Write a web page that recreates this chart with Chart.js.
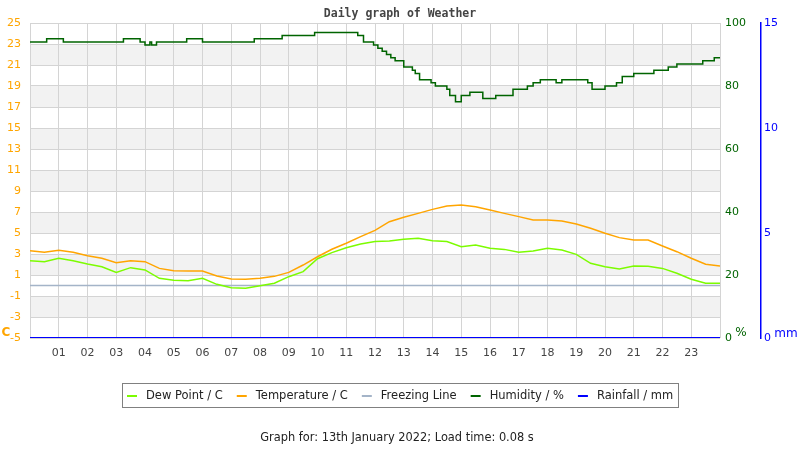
<!DOCTYPE html>
<html>
<head>
<meta charset="utf-8">
<title>Daily graph of Weather</title>
<script src="https://cdn.jsdelivr.net/npm/chart.js@4/dist/chart.umd.min.js"></script>
<style>
  html, body { margin: 0; padding: 0; background: #fff; }
  #wrap { width: 800px; height: 450px; }
</style>
</head>
<body>
<div id="wrap"><canvas id="weatherChart" width="800" height="450"></canvas></div>
<script>
// half-hourly readings, 00:00 - 24:00
var hours = [0, 0.5, 1, 1.5, 2, 2.5, 3, 3.5, 4, 4.5, 5, 5.5, 6, 6.5, 7, 7.5, 8, 8.5, 9, 9.5, 10, 10.5, 11, 11.5,
             12, 12.5, 13, 13.5, 14, 14.5, 15, 15.5, 16, 16.5, 17, 17.5, 18, 18.5, 19, 19.5, 20, 20.5, 21, 21.5, 22, 22.5, 23, 23.5, 24];
var tempC = [3.32, 3.16, 3.35, 3.16, 2.84, 2.59, 2.17, 2.36, 2.27, 1.63, 1.41, 1.38, 1.38, 0.90, 0.62, 0.60, 0.68, 0.87, 1.25, 1.95, 2.74, 3.45, 4.02, 4.65,
             5.25, 6.08, 6.50, 6.87, 7.25, 7.57, 7.67, 7.50, 7.19, 6.87, 6.56, 6.24, 6.24, 6.14, 5.86, 5.45, 4.97, 4.56, 4.33, 4.33, 3.76, 3.22, 2.59, 2.02, 1.86];
var dewC = [2.36, 2.27, 2.59, 2.36, 2.05, 1.79, 1.25, 1.70, 1.48, 0.68, 0.49, 0.46, 0.68, 0.11, -0.21, -0.27, -0.02, 0.21, 0.84, 1.32, 2.55, 3.13, 3.60, 3.95,
            4.20, 4.24, 4.40, 4.49, 4.27, 4.18, 3.70, 3.86, 3.54, 3.44, 3.16, 3.28, 3.54, 3.38, 2.97, 2.11, 1.79, 1.57, 1.86, 1.84, 1.63, 1.16, 0.59, 0.21, 0.21];

// humidity only changes in whole steps, so keep the change points
var humHours = [0, 0.58, 1.16, 3.25, 3.83, 4.0, 4.17, 4.23, 4.4, 5.45, 6.0, 7.8, 8.77, 9.9, 11.4, 11.6, 11.95, 12.1, 12.25, 12.4,
                12.55, 12.7, 13.0, 13.3, 13.4, 13.55, 13.95, 14.1, 14.5, 14.6, 14.8, 15.0, 15.3, 15.75, 16.2, 16.8, 17.3, 17.5, 17.75, 18.3,
                18.5, 19.4, 19.55, 20.0, 20.4, 20.6, 21.0, 21.7, 22.2, 22.5, 23.4, 23.8, 24.0];
var humPct = [94, 95, 94, 95, 94, 93, 94, 93, 94, 95, 94, 95, 96, 97, 96, 94, 93, 92, 91, 90,
              89, 88, 86, 85, 84, 82, 81, 80, 79, 77, 75, 77, 78, 76, 77, 79, 80, 81, 82, 81,
              82, 81, 79, 80, 81, 83, 84, 85, 86, 87, 88, 89, 89];

var rainHours = [0, 24];
var rainMm = [0, 0];
var freezeHours = [0, 24];
var freezeC = [0, 0];

var seriesNames = ['Dew Point / C', 'Temperature / C', 'Freezing Line', 'Humidity / %', 'Rainfall / mm'];
var seriesColors = ['#7cfc00', '#ffa500', '#a4b4c8', '#006400', '#0000ff'];

var tempTicks = { min: -5, max: 25, step: 2 };
var humTicks = { min: 0, max: 100, step: 20 };
var rainTicks = { min: 0, max: 15, step: 5 };

var titleText = 'Daily graph of Weather';
var footerText = 'Graph for: 13th January 2022; Load time: 0.08 s';

function pairs(xs, ys) {
    return xs.map(function (x, i) { return { x: x, y: ys[i] }; });
}

var font = '"DejaVu Sans", Verdana, sans-serif';

// shaded bands, unit labels, legend box and footer
var extras = {
    id: 'extras',
    beforeDraw: function (chart) {
        var ctx = chart.ctx, a = chart.chartArea, y = chart.scales.y;
        ctx.save();
        ctx.fillStyle = '#f2f2f2';
        for (var v = tempTicks.min + tempTicks.step; v < tempTicks.max; v += tempTicks.step * 2) {
            var top = y.getPixelForValue(v + tempTicks.step);
            var bot = y.getPixelForValue(v);
            ctx.fillRect(a.left, top, a.right - a.left, bot - top);
        }
        ctx.restore();
    },
    afterDraw: function (chart) {
        var ctx = chart.ctx;
        ctx.save();

        ctx.font = 'bold 11.5px "DejaVu Sans Mono", monospace';
        ctx.fillStyle = '#444';
        ctx.textAlign = 'center';
        ctx.textBaseline = 'alphabetic';
        ctx.fillText(titleText, 400, 17);

        ctx.textBaseline = 'middle';
        ctx.font = 'bold 12px ' + font;
        ctx.fillStyle = seriesColors[1];
        ctx.fillText('C', 6, 333);
        ctx.font = '12px ' + font;
        ctx.fillStyle = seriesColors[3];
        ctx.fillText('%', 741, 333);
        ctx.fillStyle = seriesColors[4];
        ctx.fillText('mm', 786, 334);

        // legend
        ctx.font = '11.5px ' + font;
        var sw = 10, gapText = 9, gapItem = 14, pad = 5;
        var widths = seriesNames.map(function (n) { return ctx.measureText(n).width; });
        var total = pad * 2;
        widths.forEach(function (w, i) { total += sw + gapText + w + (i < widths.length - 1 ? gapItem : 0); });
        var x0 = Math.round(400 - total / 2);
        var ly = 396;
        ctx.strokeStyle = '#808080';
        ctx.lineWidth = 1;
        ctx.strokeRect(x0 + 0.5, 383.5, Math.round(total), 24);
        var x = x0 + pad;
        ctx.textAlign = 'left';
        seriesNames.forEach(function (n, i) {
            ctx.strokeStyle = seriesColors[i];
            ctx.lineWidth = 2;
            ctx.beginPath();
            ctx.moveTo(x, ly);
            ctx.lineTo(x + sw, ly);
            ctx.stroke();
            ctx.fillStyle = '#222';
            ctx.fillText(n, x + sw + gapText, ly);
            x += sw + gapText + widths[i] + gapItem;
        });

        ctx.font = '11.4px ' + font;
        ctx.textAlign = 'center';
        ctx.fillStyle = '#222';
        ctx.fillText(footerText, 397, 438);
        ctx.restore();
    }
};

new Chart(document.getElementById('weatherChart'), {
    type: 'line',
    data: {
        datasets: [
            { label: seriesNames[0], data: pairs(hours, dewC), borderColor: seriesColors[0], borderWidth: 1.5, yAxisID: 'y' },
            { label: seriesNames[1], data: pairs(hours, tempC), borderColor: seriesColors[1], borderWidth: 1.5, yAxisID: 'y' },
            { label: seriesNames[2], data: pairs(freezeHours, freezeC), borderColor: seriesColors[2], borderWidth: 1.5, yAxisID: 'y' },
            { label: seriesNames[3], data: pairs(humHours, humPct), borderColor: seriesColors[3], borderWidth: 1.5, stepped: true, yAxisID: 'y1' },
            { label: seriesNames[4], data: pairs(rainHours, rainMm), borderColor: seriesColors[4], borderWidth: 2, yAxisID: 'y2' }
        ]
    },
    options: {
        responsive: false,
        animation: false,
        layout: { padding: { top: 23, left: 0, right: 0, bottom: 0 } },
        elements: { point: { radius: 0 }, line: { tension: 0 } },
        plugins: {
            legend: { display: false },
            title: { display: false },
            tooltip: { enabled: false }
        },
        scales: {
            x: {
                type: 'linear',
                min: 0,
                max: 24,
                afterFit: function (s) { s.height = 112; },
                grid: { color: '#d4d4d4', drawTicks: false },
                border: { display: false },
                ticks: {
                    stepSize: 1,
                    padding: 9,
                    color: '#444',
                    font: { family: font, size: 11 },
                    maxRotation: 0,
                    autoSkip: false,
                    callback: function (v) { return (v > 0 && v < 24) ? String(v).padStart(2, '0') : ''; }
                }
            },
            y: {
                position: 'left',
                min: tempTicks.min,
                max: tempTicks.max,
                afterFit: function (s) { s.width = 30; },
                grid: { color: '#d4d4d4', drawTicks: false },
                border: { color: '#d4d4d4' },
                ticks: { stepSize: tempTicks.step, padding: 9, color: '#ffa500', font: { family: font, size: 11 } }
            },
            y1: {
                position: 'right',
                weight: 0,
                min: humTicks.min,
                max: humTicks.max,
                afterFit: function (s) { s.width = 41; },
                grid: { display: false, drawTicks: false },
                border: { display: false },
                ticks: { stepSize: humTicks.step, padding: 5, color: '#006400', font: { family: font, size: 11 } }
            },
            y2: {
                position: 'right',
                weight: 1,
                min: rainTicks.min,
                max: rainTicks.max,
                afterFit: function (s) { s.width = 39; },
                grid: { display: false, drawTicks: false },
                border: { display: true, color: '#0000ff', width: 1.5 },
                ticks: { stepSize: rainTicks.step, padding: 3, color: '#0000ff', font: { family: font, size: 11 } }
            }
        }
    },
    plugins: [extras]
});
</script>
</body>
</html>
